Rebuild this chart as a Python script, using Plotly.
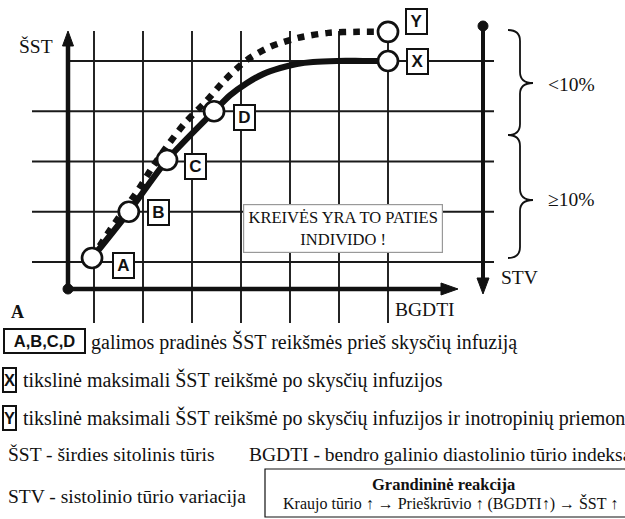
import plotly.graph_objects as go

W, H = 625, 519

# ---------------- data (grid units) ----------------
grid_x = [1, 2, 3, 4, 5, 6, 7]
grid_y = [1, 2, 3, 4, 5]

solid_x = [0.96, 1.71, 2.49, 3.45, 3.78, 4.12, 4.45, 4.80, 5.14, 5.47, 5.96, 6.49, 7.0]
solid_y = [1.08, 2.00, 3.03, 4.00, 4.32, 4.56, 4.74, 4.86, 4.94, 4.98, 5.00, 5.00, 5.00]

dotted_x = [0.96, 1.33, 1.90, 2.18, 2.51, 2.86, 3.27, 3.67, 4.12, 4.59, 5.16, 5.78, 6.39, 7.0]
dotted_y = [1.08, 1.64, 2.43, 2.87, 3.33, 3.77, 4.18, 4.62, 5.02, 5.28, 5.46, 5.56, 5.58, 5.58]

point_labels = ["A", "B", "C", "D", "X", "Y"]
point_x = [0.96, 1.71, 2.49, 3.45, 7.0, 7.0]
point_y = [1.08, 2.00, 3.03, 4.00, 5.00, 5.58]

legend_box_labels = ["A,B,C,D", "X", "Y"]
legend_texts = [
    "galimos pradinės ŠST reikšmės prieš skysčių infuziją",
    "tikslinė maksimali ŠST reikšmė po skysčių infuzijos",
    "tikslinė maksimali ŠST reikšmė po skysčių infuzijos ir inotropinių priemonių",
]
abbrev_texts = [
    "ŠST - širdies sitolinis tūris",
    "BGDTI - bendro galinio diastolinio tūrio indeksas",
    "STV - sistolinio tūrio variacija",
]
chain_title = "Grandininė reakcija"
chain_text = "Kraujo tūrio ↑ → Prieškrūvio ↑ (BGDTI↑) → ŠST ↑"
note_text = "KREIVĖS YRA TO PATIES<br>INDIVIDO !"
brace_labels = ["<10%", "≥10%"]

# ---------------- layout helpers ----------------
GX0, GDX = 94.0, 49.0      # pixel of grid x=1, px per unit
GY0, GDY = 262.0, 50.25    # pixel of grid y=1, px per unit


def xd(px):
    return 1 + (px - GX0) / GDX


def yd(py):
    return 1 + (GY0 - py) / GDY


def xp(px):
    return px / W


def yp(py):
    return 1 - py / H


SERIF = "Liberation Serif, Times New Roman, serif"
SANS = "Liberation Sans, Arial, sans-serif"
INK = "#111111"

fig = go.Figure()

# curves
fig.add_trace(go.Scatter(x=dotted_x, y=dotted_y, mode="lines",
                         line=dict(color=INK, width=6.5, dash="7px,7px", shape="spline", smoothing=0.8),
                         hoverinfo="skip"))
fig.add_trace(go.Scatter(x=solid_x, y=solid_y, mode="lines",
                         line=dict(color=INK, width=6.2, shape="spline", smoothing=0.8),
                         hoverinfo="skip"))
fig.add_trace(go.Scatter(x=point_x, y=point_y, mode="markers",
                         marker=dict(size=20, color="white", line=dict(color=INK, width=2.7)),
                         hoverinfo="skip"))

shapes = []
# grid
for g in grid_x:
    shapes.append(dict(type="line", xref="x", yref="y", x0=g, x1=g, y0=yd(323), y1=yd(31),
                       line=dict(color="#1a1a1a", width=1.9), layer="below"))
for g in grid_y:
    shapes.append(dict(type="line", xref="x", yref="y", x0=xd(70) if g == grid_y[-1] else xd(32),
                       x1=xd(494), y0=g, y1=g, line=dict(color="#1a1a1a", width=1.9), layer="below"))


def seg(x0, y0, x1, y1, w):
    return dict(type="line", xref="paper", yref="paper", x0=xp(x0), y0=yp(y0), x1=xp(x1), y1=yp(y1),
                line=dict(color=INK, width=w))


def tri(pts):
    p = "M " + " L ".join(f"{xp(a):.5f},{yp(b):.5f}" for a, b in pts) + " Z"
    return dict(type="path", xref="paper", yref="paper", path=p, fillcolor=INK, line=dict(color=INK, width=1))


def dot(cx, cy, r):
    return dict(type="circle", xref="paper", yref="paper", x0=xp(cx - r), x1=xp(cx + r),
                y0=yp(cy + r), y1=yp(cy - r), fillcolor=INK, line=dict(color=INK, width=1))


# left axis
shapes.append(seg(68, 289, 68, 44, 4.5))
shapes.append(tri([(68, 31), (62.5, 46), (73.5, 46)]))
# bottom axis
shapes.append(seg(68, 289, 443, 289, 4.5))
shapes.append(tri([(458, 289), (441, 283), (441, 295)]))
shapes.append(dot(68, 289, 5))
# right axis (STV)
shapes.append(seg(483, 26, 483, 280, 4))
shapes.append(tri([(483, 294), (477, 278), (489, 278)]))
shapes.append(dot(483, 26, 5))


# braces
def brace(t, m, b, xb=508, xm=520, xt=533, r=11):
    P = lambda a, c: f"{xp(a):.5f},{yp(c):.5f}"
    path = (f"M {P(xb, t)} Q {P(xm, t)} {P(xm, t + r)} L {P(xm, m - r)} Q {P(xm, m)} {P(xt, m)} "
            f"Q {P(xm, m)} {P(xm, m + r)} L {P(xm, b - r)} Q {P(xm, b)} {P(xb, b)}")
    return dict(type="path", xref="paper", yref="paper", path=path, line=dict(color=INK, width=1.8))


shapes.append(brace(30, 83, 135))
shapes.append(brace(135, 200, 258))

# chain reaction box
shapes.append(dict(type="rect", xref="paper", yref="paper", x0=xp(265), x1=xp(640), y0=yp(517), y1=yp(469),
                   line=dict(color=INK, width=1.2), fillcolor="white"))

ann = []


def txt(s, x, y, size=18, anchor="left", bold=False, family=SERIF, yanchor="middle"):
    ann.append(dict(text=f"<b>{s}</b>" if bold else s, x=xp(x), y=yp(y), xref="paper", yref="paper",
                    xanchor=anchor, yanchor=yanchor, showarrow=False,
                    font=dict(family=family, size=size, color=INK)))


def boxlab(s, x, y, w, h, size):
    ann.append(dict(text=f"<b>{s}</b>", x=x, y=y, xref="paper", yref="paper",
                    xanchor="center", yanchor="middle", showarrow=False,
                    width=w, height=h, borderpad=0, borderwidth=2, bordercolor=INK, bgcolor="white",
                    font=dict(family=SANS, size=size, color=INK)))


# point label boxes (attached to the points)
shifts = {"A": (31, -8), "B": (30, -1), "C": (28, -7), "D": (30, -6), "X": (29, 0), "Y": (28, 10)}
for lab, x, y in zip(point_labels, point_x, point_y):
    sx, sy = shifts[lab]
    ann.append(dict(text=f"<b>{lab}</b>", x=x, y=y, xref="x", yref="y", xanchor="center", yanchor="middle",
                    showarrow=False, xshift=sx, yshift=sy, width=19, height=23, borderpad=0,
                    borderwidth=2, bordercolor=INK, bgcolor="white",
                    font=dict(family=SANS, size=17, color=INK)))

# axis labels
txt("ŠST", 36, 46, 19.5, "center")
txt("STV", 519, 277, 19.5, "center")
txt("BGDTI", 425, 309, 19.5, "center")
txt("A", 17, 312, 18, "center", bold=True)
txt(brace_labels[0], 546, 85, 19.5)
txt(brace_labels[1], 546, 200, 19.5)

# note box
ann.append(dict(text=note_text, x=xp(342.5), y=yp(228), xref="paper", yref="paper", xanchor="center",
                yanchor="middle", showarrow=False, width=198, height=47, borderpad=0, borderwidth=1.2,
                bordercolor="#999", bgcolor="white", font=dict(family=SERIF, size=16.5, color=INK)))

# legend
boxlab(legend_box_labels[0], xp(44), yp(341), 79, 22, 16.5)
boxlab(legend_box_labels[1], xp(9.5), yp(380), 11, 22, 16.5)
boxlab(legend_box_labels[2], xp(9.5), yp(418), 11, 22, 16.5)
txt(legend_texts[0], 89, 342, 20)
txt(legend_texts[1], 21, 380, 20)
txt(legend_texts[2], 21, 418, 20)
txt(abbrev_texts[0], 6, 454, 19.5)
txt(abbrev_texts[1], 247, 454, 19.5)
txt(abbrev_texts[2], 6, 496, 19.5)
txt(chain_title, 443, 484, 16.5, "center", bold=True)
txt(chain_text, 450, 503, 16, "center")

fig.update_layout(
    width=W, height=H, margin=dict(l=0, r=0, t=0, b=0),
    paper_bgcolor="white", plot_bgcolor="white", showlegend=False,
    xaxis=dict(range=[xd(0), xd(W)], visible=False, fixedrange=True),
    yaxis=dict(range=[yd(H), yd(0)], visible=False, fixedrange=True),
    shapes=shapes, annotations=ann,
)

fig.write_html("out.html", config={"displayModeBar": False},
               post_script="document.body.style.margin='0px';document.body.style.overflow='hidden';")
